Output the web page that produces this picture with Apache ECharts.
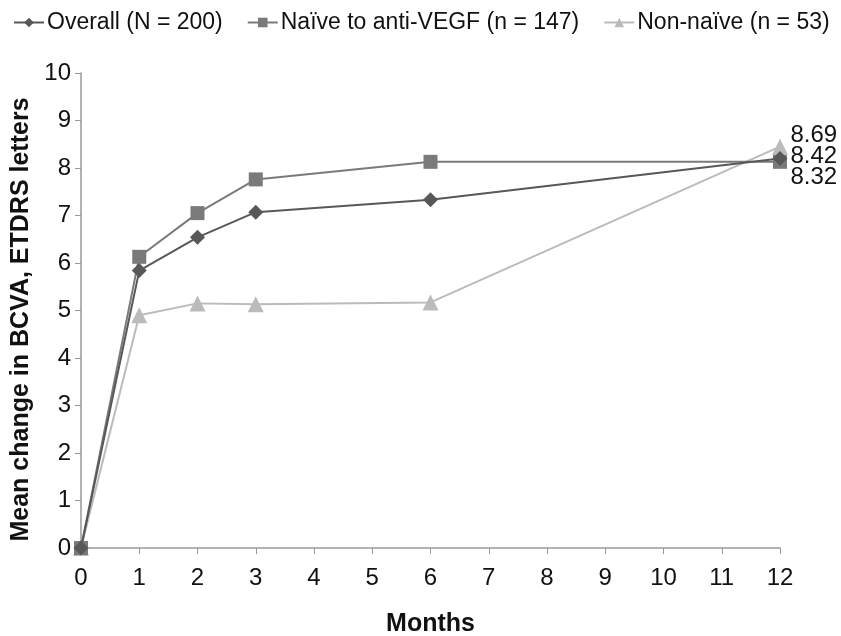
<!DOCTYPE html>
<html>
<head>
<meta charset="utf-8">
<script src="https://cdn.jsdelivr.net/npm/echarts@6/dist/echarts.min.js"></script>
<style>
html,body{margin:0;padding:0;background:#fff;}
#chart{width:841px;height:636px;}
</style>
</head>
<body>
<div id="chart"></div>
<script>
var months = [0, 1, 2, 3, 6, 12];
var overall = [0, 5.84, 6.54, 7.07, 7.33, 8.2];
var naive = [0, 6.13, 7.05, 7.76, 8.13, 8.13];
var nonNaive = [0, 4.9, 5.15, 5.13, 5.17, 8.45];
var endLabels = ['8.69', '8.42', '8.32'];
var seriesNames = ['Overall (N = 200)', 'Naïve to anti-VEGF (n = 147)', 'Non-naïve (n = 53)'];

function pairs(vals) {
	return vals.map(function (v, i) { return [months[i], v]; });
}

var font = 'Liberation Sans, Arial, sans-serif';
var chart = echarts.init(document.getElementById('chart'));

var option = {
	backgroundColor: '#fff',
	animation: false,
	legend: {
		top: 6,
		left: 8,
		itemGap: 24,
		itemWidth: 30,
		itemHeight: 12,
		textStyle: { fontFamily: font, fontSize: 23, color: '#111', padding: [0, 0, 0, -2] },
		data: seriesNames
	},
	grid: { left: 81, right: 61, top: 73, bottom: 88, outerBoundsMode: 'none', containLabel: false },
	xAxis: {
		type: 'value',
		min: 0, max: 12, interval: 1,
		name: 'Months',
		nameLocation: 'middle',
		nameGap: 64,
		nameTextStyle: { fontFamily: font, fontSize: 25, fontWeight: 'bold', color: '#111' },
		axisLine: { lineStyle: { color: '#999', width: 1.5 } },
		axisTick: { show: true, length: 6, lineStyle: { color: '#999' } },
		axisLabel: { fontFamily: font, fontSize: 24, color: '#111', margin: 18 },
		splitLine: { show: false }
	},
	yAxis: {
		type: 'value',
		min: 0, max: 10, interval: 1,
		name: 'Mean change in BCVA, ETDRS letters',
		nameLocation: 'middle',
		nameGap: 43,
		nameTextStyle: { fontFamily: font, fontSize: 25, fontWeight: 'bold', color: '#111', padding: [0, 18, 0, 0] },
		axisLine: { show: true, lineStyle: { color: '#999', width: 1.5 } },
		axisTick: { show: true, length: 6, lineStyle: { color: '#999' } },
		axisLabel: { fontFamily: font, fontSize: 24, color: '#111', margin: 10 },
		splitLine: { show: false }
	},
	series: [
		{
			name: seriesNames[2],
			type: 'line',
			data: pairs(nonNaive),
			symbol: 'triangle',
			symbolSize: 16,
			z: 2,
			itemStyle: { color: '#bbbbbb' },
			lineStyle: { color: '#bbbbbb', width: 2 }
		},
		{
			name: seriesNames[1],
			type: 'line',
			data: pairs(naive),
			symbol: 'rect',
			symbolSize: 14,
			z: 3,
			itemStyle: { color: '#7a7a7a' },
			lineStyle: { color: '#7a7a7a', width: 2 }
		},
		{
			name: seriesNames[0],
			type: 'line',
			data: pairs(overall).map(function (p, i) {
				if (i === months.length - 1) {
					return {
						value: p,
						label: {
							show: true,
							position: 'right',
							distance: 3,
							offset: [0, -2],
							formatter: endLabels.join('\n'),
							fontFamily: font,
							fontSize: 24,
							lineHeight: 21,
							color: '#111'
						}
					};
				}
				return p;
			}),
			symbol: 'diamond',
			symbolSize: 15,
			z: 4,
			itemStyle: { color: '#585858' },
			lineStyle: { color: '#585858', width: 2 }
		}
	]
};

chart.setOption(option);
</script>
</body>
</html>
